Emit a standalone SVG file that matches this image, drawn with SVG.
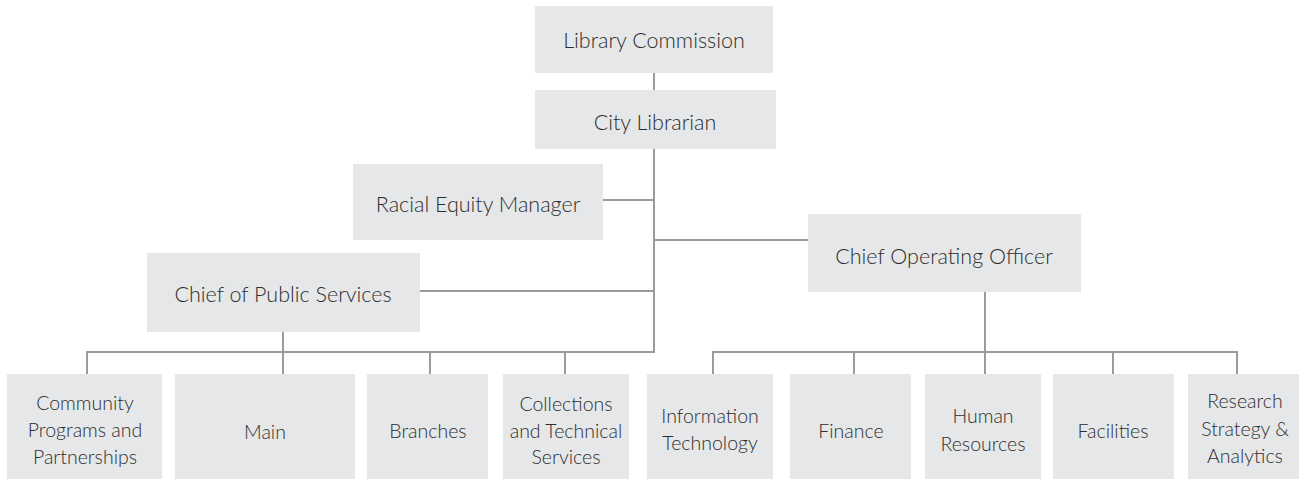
<svg xmlns="http://www.w3.org/2000/svg" width="1299" height="479" viewBox="0 0 1299 479">
<style>
.box{fill:#e6e7e8}
.t{font-family:Lato,"Open Sans","Liberation Sans",sans-serif;font-weight:300;font-size:21.5px;fill:#2e2e2e;text-anchor:middle}
.s{font-size:19.5px}
.c{fill:none;stroke:#9b9b9b;stroke-width:2}
</style>
<rect width="1299" height="479" fill="#fff"/>
<g id="connectors">
<path class="c" d="M654,73V90"/>
<path class="c" d="M654,149V352H87V374"/>
<path class="c" d="M603,200H654"/>
<path class="c" d="M654,240H808"/>
<path class="c" d="M420,291H654"/>
<path class="c" d="M283,332V374"/>
<path class="c" d="M430,352V374"/>
<path class="c" d="M565,352V374"/>
<path class="c" d="M985,292V374"/>
<path class="c" d="M713,374V352H1237V374"/>
<path class="c" d="M854,352V374"/>
<path class="c" d="M1113,352V374"/>
</g>
<g id="library-commission"><rect class="box" x="535" y="6" width="238" height="67"/><text class="t" x="654" y="48">Library Commission</text></g>
<g id="city-librarian"><rect class="box" x="535" y="90" width="241" height="59"/><text class="t" x="655" y="130">City Librarian</text></g>
<g id="racial-equity-manager"><rect class="box" x="353" y="164" width="250" height="76"/><text class="t" x="478" y="212">Racial Equity Manager</text></g>
<g id="chief-operating-officer"><rect class="box" x="808" y="214" width="273" height="78"/><text class="t" x="944" y="264">Chief Operating Officer</text></g>
<g id="chief-public-services"><rect class="box" x="147" y="253" width="273" height="79"/><text class="t" x="283" y="302">Chief of Public Services</text></g>
<g id="community-programs"><rect class="box" x="7" y="374" width="155" height="105"/><text class="t s"><tspan x="85" y="410">Community</tspan><tspan x="85" y="437">Programs and</tspan><tspan x="85" y="464">Partnerships</tspan></text></g>
<g id="main"><rect class="box" x="175" y="374" width="180" height="105"/><text class="t s" x="265" y="439">Main</text></g>
<g id="branches"><rect class="box" x="367" y="374" width="121" height="105"/><text class="t s" x="428" y="438">Branches</text></g>
<g id="collections"><rect class="box" x="503" y="374" width="126" height="105"/><text class="t s"><tspan x="566" y="411">Collections</tspan><tspan x="566" y="438">and Technical</tspan><tspan x="566" y="464">Services</tspan></text></g>
<g id="information-technology"><rect class="box" x="647" y="374" width="126" height="105"/><text class="t s"><tspan x="710" y="423">Information</tspan><tspan x="710" y="450">Technology</tspan></text></g>
<g id="finance"><rect class="box" x="790" y="374" width="121" height="105"/><text class="t s" x="851" y="438">Finance</text></g>
<g id="human-resources"><rect class="box" x="925" y="374" width="116" height="105"/><text class="t s"><tspan x="983" y="423">Human</tspan><tspan x="983" y="451">Resources</tspan></text></g>
<g id="facilities"><rect class="box" x="1053" y="374" width="121" height="105"/><text class="t s" x="1113" y="438">Facilities</text></g>
<g id="research"><rect class="box" x="1188" y="374" width="115" height="105"/><text class="t s"><tspan x="1245" y="408">Research</tspan><tspan x="1245" y="436">Strategy &amp;</tspan><tspan x="1245" y="463">Analytics</tspan></text></g>
</svg>
